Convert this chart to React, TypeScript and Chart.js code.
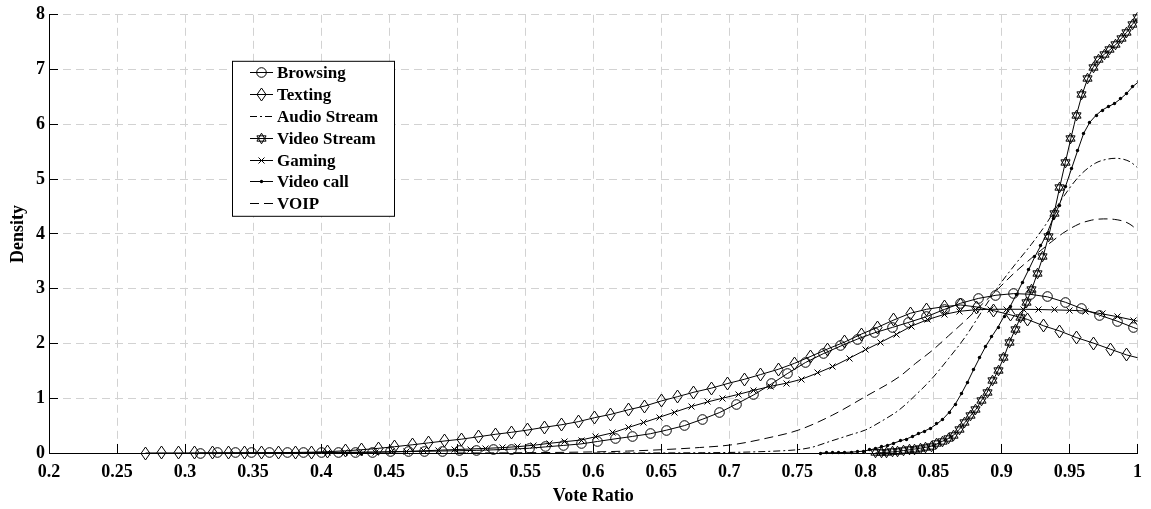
import React, { useEffect, useRef } from "react";
import { Chart, registerables } from "chart.js";

Chart.register(...registerables);

// ---------- tick labels ----------
const xTickValues = [0.2, 0.25, 0.3, 0.35, 0.4, 0.45, 0.5, 0.55, 0.6, 0.65, 0.7, 0.75, 0.8, 0.85, 0.9, 0.95, 1];
const yTickValues = [0, 1, 2, 3, 4, 5, 6, 7, 8];

// ---------- series ----------
const seriesLabels = ["Browsing", "Texting", "Audio Stream", "Video Stream", "Gaming", "Video call", "VOIP"];

const browsingX = [0.311, 0.324, 0.337, 0.349, 0.362, 0.375, 0.387, 0.400, 0.413, 0.425, 0.438, 0.451, 0.464, 0.476, 0.489, 0.502, 0.514, 0.527, 0.540, 0.553, 0.565, 0.578, 0.591, 0.603, 0.616, 0.629, 0.642, 0.654, 0.667, 0.680, 0.693, 0.705, 0.718, 0.731, 0.743, 0.756, 0.769, 0.782, 0.794, 0.807, 0.820, 0.832, 0.845, 0.858, 0.870, 0.883, 0.896, 0.909, 0.921, 0.934, 0.947, 0.959, 0.972, 0.985, 0.997, 1.010];
const browsingY = [0.000, 0.001, 0.002, 0.003, 0.004, 0.005, 0.007, 0.009, 0.011, 0.014, 0.017, 0.021, 0.026, 0.031, 0.036, 0.042, 0.048, 0.058, 0.070, 0.087, 0.112, 0.138, 0.166, 0.210, 0.258, 0.303, 0.352, 0.418, 0.500, 0.614, 0.740, 0.892, 1.062, 1.262, 1.455, 1.652, 1.812, 1.954, 2.078, 2.197, 2.294, 2.386, 2.490, 2.620, 2.734, 2.822, 2.880, 2.910, 2.898, 2.850, 2.752, 2.637, 2.517, 2.408, 2.292, 2.170];

const textingX = [0.271, 0.283, 0.295, 0.307, 0.320, 0.332, 0.344, 0.356, 0.369, 0.381, 0.393, 0.405, 0.418, 0.430, 0.442, 0.454, 0.467, 0.479, 0.491, 0.503, 0.516, 0.528, 0.540, 0.552, 0.564, 0.577, 0.589, 0.601, 0.613, 0.626, 0.638, 0.650, 0.662, 0.674, 0.687, 0.699, 0.711, 0.723, 0.736, 0.748, 0.760, 0.772, 0.785, 0.797, 0.809, 0.821, 0.833, 0.845, 0.858, 0.870, 0.882, 0.894, 0.907, 0.919, 0.931, 0.943, 0.955, 0.968, 0.980, 0.992, 1.004];
const textingY = [0.000, 0.001, 0.001, 0.002, 0.002, 0.003, 0.004, 0.005, 0.007, 0.010, 0.015, 0.025, 0.040, 0.060, 0.085, 0.115, 0.150, 0.185, 0.220, 0.252, 0.298, 0.341, 0.378, 0.420, 0.469, 0.517, 0.572, 0.645, 0.706, 0.791, 0.858, 0.950, 1.029, 1.110, 1.185, 1.270, 1.345, 1.432, 1.528, 1.638, 1.765, 1.897, 2.028, 2.170, 2.295, 2.429, 2.551, 2.624, 2.672, 2.703, 2.665, 2.600, 2.520, 2.440, 2.322, 2.226, 2.108, 2.003, 1.896, 1.790, 1.715];

const audioX = [0.600, 0.650, 0.680, 0.700, 0.720, 0.740, 0.750, 0.760, 0.775, 0.790, 0.800, 0.8125, 0.825, 0.837, 0.849, 0.861, 0.874, 0.886, 0.898, 0.910, 0.922, 0.932, 0.944, 0.957, 0.969, 0.977, 0.984, 0.990, 0.995, 1.000];
const audioY = [0.000, 0.002, 0.005, 0.010, 0.022, 0.042, 0.060, 0.100, 0.220, 0.340, 0.420, 0.590, 0.790, 1.060, 1.360, 1.720, 2.140, 2.600, 3.050, 3.440, 3.810, 4.150, 4.620, 5.050, 5.290, 5.360, 5.380, 5.360, 5.310, 5.210];

const videoStreamX = [0.8075, 0.8116, 0.8157, 0.8198, 0.8239, 0.8280, 0.8321, 0.8362, 0.8403, 0.8444, 0.8485, 0.8526, 0.8567, 0.8608, 0.8649, 0.8690, 0.8731, 0.8772, 0.8813, 0.8854, 0.8895, 0.8936, 0.8977, 0.9018, 0.9059, 0.9100, 0.9141, 0.9182, 0.9223, 0.9264, 0.9305, 0.9346, 0.9387, 0.9428, 0.9469, 0.9510, 0.9551, 0.9592, 0.9633, 0.9674, 0.9715, 0.9756, 0.9797, 0.9838, 0.9879, 0.9920, 0.9961, 1.0002];
const videoStreamY = [0.003, 0.006, 0.012, 0.020, 0.030, 0.045, 0.058, 0.072, 0.088, 0.104, 0.125, 0.165, 0.215, 0.262, 0.328, 0.430, 0.555, 0.676, 0.798, 0.960, 1.110, 1.320, 1.510, 1.750, 2.020, 2.250, 2.480, 2.740, 2.990, 3.280, 3.580, 3.950, 4.380, 4.850, 5.300, 5.740, 6.170, 6.540, 6.830, 7.040, 7.190, 7.280, 7.360, 7.450, 7.560, 7.680, 7.820, 7.950];

const gamingX = [0.405, 0.417, 0.428, 0.440, 0.452, 0.463, 0.475, 0.486, 0.498, 0.510, 0.521, 0.533, 0.544, 0.556, 0.568, 0.579, 0.591, 0.602, 0.614, 0.626, 0.637, 0.649, 0.660, 0.672, 0.684, 0.695, 0.707, 0.718, 0.730, 0.742, 0.753, 0.765, 0.776, 0.788, 0.800, 0.811, 0.823, 0.834, 0.846, 0.858, 0.869, 0.881, 0.892, 0.904, 0.916, 0.927, 0.939, 0.950, 0.962, 0.974, 0.985, 0.997, 1.008];
const gamingY = [0.003, 0.006, 0.010, 0.015, 0.022, 0.030, 0.040, 0.050, 0.062, 0.073, 0.085, 0.098, 0.115, 0.141, 0.177, 0.207, 0.237, 0.298, 0.367, 0.467, 0.556, 0.655, 0.748, 0.848, 0.932, 1.000, 1.072, 1.144, 1.215, 1.275, 1.345, 1.462, 1.578, 1.727, 1.883, 2.018, 2.170, 2.318, 2.437, 2.530, 2.587, 2.615, 2.624, 2.624, 2.624, 2.620, 2.612, 2.606, 2.592, 2.540, 2.490, 2.425, 2.360];

const videoCallX = [0.7670, 0.7715, 0.7760, 0.7805, 0.7850, 0.7895, 0.7940, 0.7985, 0.8030, 0.8075, 0.8120, 0.8165, 0.8210, 0.8255, 0.8300, 0.8345, 0.8390, 0.8435, 0.8480, 0.8525, 0.8570, 0.8615, 0.8660, 0.8705, 0.8750, 0.8795, 0.8840, 0.8885, 0.8930, 0.8975, 0.9020, 0.9065, 0.9110, 0.9155, 0.9200, 0.9245, 0.9290, 0.9335, 0.9380, 0.9425, 0.9470, 0.9515, 0.9560, 0.9605, 0.9650, 0.9695, 0.9740, 0.9785, 0.9830, 0.9875, 0.9920, 0.9965, 1.0010];
const videoCallY = [0.000, 0.002, 0.004, 0.007, 0.011, 0.016, 0.024, 0.034, 0.055, 0.080, 0.110, 0.140, 0.180, 0.220, 0.255, 0.300, 0.350, 0.400, 0.455, 0.530, 0.620, 0.740, 0.890, 1.080, 1.290, 1.520, 1.740, 1.950, 2.130, 2.300, 2.500, 2.680, 2.895, 3.120, 3.345, 3.580, 3.790, 4.010, 4.290, 4.520, 4.860, 5.190, 5.520, 5.840, 6.040, 6.165, 6.260, 6.322, 6.380, 6.465, 6.565, 6.690, 6.780];

const voipX = [0.500, 0.550, 0.600, 0.625, 0.650, 0.678, 0.702, 0.727, 0.751, 0.776, 0.800, 0.825, 0.837, 0.849, 0.861, 0.874, 0.886, 0.898, 0.910, 0.922, 0.930, 0.937, 0.945, 0.957, 0.966, 0.975, 0.983, 0.991, 0.996, 1.000];
const voipY = [0.000, 0.005, 0.020, 0.035, 0.060, 0.100, 0.150, 0.268, 0.420, 0.694, 1.030, 1.394, 1.638, 1.869, 2.137, 2.430, 2.720, 3.008, 3.300, 3.556, 3.720, 3.860, 4.010, 4.180, 4.250, 4.274, 4.265, 4.220, 4.150, 4.060];

const FONT_FAMILY = '"Liberation Serif", "Times New Roman", serif';

function markerCanvas(kind: string): HTMLCanvasElement {
  const sizes: Record<string, [number, number]> = {
    circle: [13, 13],
    diamond: [11, 15],
    hexagram: [13, 13],
    cross: [9, 9],
    dot: [5, 5],
  };
  const [w, h] = sizes[kind];
  const c = document.createElement("canvas");
  c.width = w;
  c.height = h;
  const g = c.getContext("2d")!;
  g.strokeStyle = "#000";
  g.fillStyle = "#000";
  g.lineWidth = 1;
  const cx = w / 2;
  const cy = h / 2;
  if (kind === "circle") {
    g.beginPath();
    g.arc(cx, cy, 4.8, 0, Math.PI * 2);
    g.stroke();
  } else if (kind === "diamond") {
    g.beginPath();
    g.moveTo(cx, 1);
    g.lineTo(w - 1, cy);
    g.lineTo(cx, h - 1);
    g.lineTo(1, cy);
    g.closePath();
    g.stroke();
  } else if (kind === "hexagram") {
    const R = 5.3;
    for (const off of [-90, 90]) {
      g.beginPath();
      for (let k = 0; k < 3; k++) {
        const a = ((off + k * 120) * Math.PI) / 180;
        const px = cx + R * Math.cos(a);
        const py = cy + R * Math.sin(a);
        if (k === 0) g.moveTo(px, py);
        else g.lineTo(px, py);
      }
      g.closePath();
      g.stroke();
    }
  } else if (kind === "cross") {
    g.beginPath();
    g.moveTo(1.5, 1.5);
    g.lineTo(w - 1.5, h - 1.5);
    g.moveTo(w - 1.5, 1.5);
    g.lineTo(1.5, h - 1.5);
    g.stroke();
  } else if (kind === "dot") {
    g.beginPath();
    g.arc(cx, cy, 1.7, 0, Math.PI * 2);
    g.fill();
  }
  return c;
}

const crispImages = {
  id: "crispImages",
  beforeDraw(chart: any) {
    chart.ctx.imageSmoothingEnabled = false;
  },
};

const innerTicks = {
  id: "innerTicks",
  afterDraw(chart: any) {
    const { ctx, chartArea: a, scales } = chart;
    const al = (p: number) => Math.round(p - 0.5) + 0.5;
    ctx.save();
    ctx.strokeStyle = "#000";
    ctx.lineWidth = 1;
    ctx.beginPath();
    xTickValues.forEach((v) => {
      const px = al(scales.x.getPixelForValue(v));
      ctx.moveTo(px, a.bottom);
      ctx.lineTo(px, a.bottom - 9);
    });
    yTickValues.forEach((v) => {
      const py = al(scales.y.getPixelForValue(v));
      ctx.moveTo(a.left, py);
      ctx.lineTo(a.left + 9, py);
    });
    ctx.stroke();
    ctx.restore();
  },
};

const boxLegend = {
  id: "boxLegend",
  afterDatasetsDraw(chart: any) {
    const ctx = chart.ctx;
    const a = chart.chartArea;
    const L = a.left + 183.5;
    const T = a.top + 46.5;
    const W = 162;
    const H = 155;
    ctx.save();
    ctx.imageSmoothingEnabled = false;
    ctx.fillStyle = "#fff";
    ctx.fillRect(L, T, W, H);
    ctx.strokeStyle = "#000";
    ctx.lineWidth = 1;
    ctx.strokeRect(L, T, W, H);
    chart.data.datasets.forEach((ds: any, i: number) => {
      const y = Math.round(T + 11 + i * 21.8) + 0.5;
      const x0 = L + 17.5;
      const x1 = L + 40.5;
      ctx.setLineDash(ds.borderDash || []);
      ctx.beginPath();
      ctx.moveTo(x0, y);
      ctx.lineTo(x1, y);
      ctx.stroke();
      ctx.setLineDash([]);
      if (ds.pointRadius > 0 && ds.pointStyle) {
        const img = ds.pointStyle as HTMLCanvasElement;
        ctx.drawImage(img, Math.round((x0 + x1) / 2 - img.width / 2), Math.round(y - img.height / 2));
      }
      ctx.fillStyle = "#000";
      ctx.font = `bold 17px ${FONT_FAMILY}`;
      ctx.textBaseline = "middle";
      ctx.textAlign = "left";
      ctx.fillText(ds.label, L + 44.5, y + 1);
    });
    ctx.restore();
  },
};

export default function App() {
  const ref = useRef<HTMLCanvasElement | null>(null);

  useEffect(() => {
    const canvas = ref.current;
    if (!canvas) return;

    const pts = (xs: number[], ys: number[]) => xs.map((x, i) => ({ x, y: ys[i] }));
    const clip = { left: 0, top: 10, right: 0, bottom: 10 };
    const base = {
      borderColor: "#000",
      backgroundColor: "#000",
      borderWidth: 1,
      fill: false,
      clip,
    };
    const withMarker = (label: string, xs: number[], ys: number[], kind: string) => ({
      ...base,
      label,
      data: pts(xs, ys),
      pointStyle: markerCanvas(kind),
      pointRadius: 5,
      tension: 0,
    });
    const noMarker = (label: string, xs: number[], ys: number[], dash: number[]) => ({
      ...base,
      label,
      data: pts(xs, ys),
      pointRadius: 0,
      borderDash: dash,
      cubicInterpolationMode: "monotone",
    });

    const datasets: any[] = [
      withMarker(seriesLabels[0], browsingX, browsingY, "circle"),
      withMarker(seriesLabels[1], textingX, textingY, "diamond"),
      noMarker(seriesLabels[2], audioX, audioY, [7, 3, 2, 3]),
      withMarker(seriesLabels[3], videoStreamX, videoStreamY, "hexagram"),
      withMarker(seriesLabels[4], gamingX, gamingY, "cross"),
      withMarker(seriesLabels[5], videoCallX, videoCallY, "dot"),
      noMarker(seriesLabels[6], voipX, voipY, [9, 5]),
    ];

    const font = { family: FONT_FAMILY, size: 18, weight: "bold" as const };

    const chart = new Chart(canvas, {
      type: "line",
      data: { datasets },
      options: {
        animation: false,
        responsive: false,
        devicePixelRatio: 1,
        events: [],
        layout: { padding: { top: 14, right: 12, left: 0, bottom: 0 } },
        plugins: {
          legend: { display: false },
          tooltip: { enabled: false },
        },
        scales: {
          x: {
            type: "linear",
            min: 0.2,
            max: 1,
            afterBuildTicks: (s: any) => {
              s.ticks = xTickValues.map((v) => ({ value: v }));
            },
            afterFit: (s: any) => {
              s.height = 56;
            },
            grid: { color: "#d2d2d2", lineWidth: 1, drawTicks: false },
            border: { display: true, color: "#000", width: 1, dash: [8, 5] },
            ticks: {
              padding: 9,
              color: "#000",
              font,
              autoSkip: false,
              maxRotation: 0,
              callback: (v: any) => String(+Number(v).toFixed(2)),
            },
            title: {
              display: true,
              text: "Vote Ratio",
              color: "#000",
              font,
              padding: { top: 0, bottom: 2 },
            },
          },
          y: {
            type: "linear",
            min: 0,
            max: 8,
            afterBuildTicks: (s: any) => {
              s.ticks = yTickValues.map((v) => ({ value: v }));
            },
            afterFit: (s: any) => {
              s.width = 49;
            },
            grid: { color: "#d2d2d2", lineWidth: 1, drawTicks: false },
            border: { display: true, color: "#000", width: 1, dash: [8, 5] },
            ticks: {
              padding: 4,
              color: "#000",
              font,
              autoSkip: false,
              callback: (v: any) => String(v),
            },
            title: {
              display: true,
              text: "Density",
              color: "#000",
              font,
              padding: { top: 8, bottom: 0 },
            },
          },
        },
      } as any,
      plugins: [crispImages, innerTicks, boxLegend],
    });

    return () => chart.destroy();
  }, []);

  return (
    <div style={{ position: "fixed", left: 0, top: 0, width: 1151, height: 509, background: "#fff" }}>
      <canvas ref={ref} width={1151} height={509} style={{ display: "block", width: 1151, height: 509 }} />
    </div>
  );
}
